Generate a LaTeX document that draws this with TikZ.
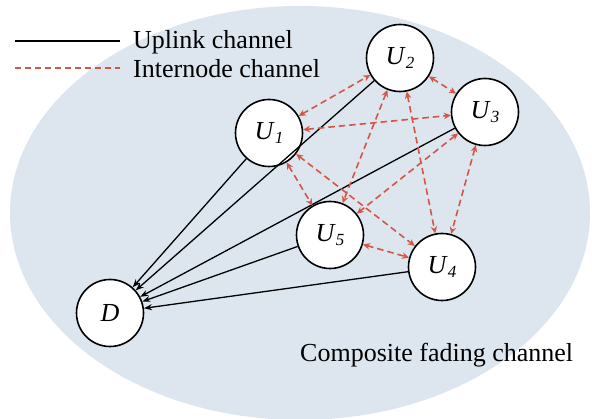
\documentclass[tikz,border=0pt]{standalone}
\usepackage{fontspec}
\setmainfont{Liberation Serif}
\usetikzlibrary{arrows.meta}
\definecolor{fadebg}{RGB}{221,229,239}
\definecolor{linkred}{RGB}{212,86,72}
% user label: italic U with an italic index
\newcommand{\usr}[1]{\textit{U}\raisebox{-4.5pt}{\fontsize{17}{17}\selectfont\textit{#1}}}

\begin{document}
\begin{tikzpicture}[x=1pt,y=-1pt,
  user/.style={circle,draw=black,line width=1.6pt,fill=white,minimum size=67pt,
    inner sep=0pt,font=\fontsize{26}{26}\selectfont},
  uplink/.style={black,line width=1.3pt,-{Stealth[length=8pt,width=6pt]}},
  internode/.style={linkred,line width=1.6pt,dash pattern=on 6.5pt off 4pt,
    {Stealth[length=7pt,width=6.5pt]}-{Stealth[length=7pt,width=6.5pt]}},
  legendtext/.style={font=\fontsize{26}{26}\selectfont,inner sep=0pt,anchor=base west}]
\useasboundingbox (0,0) rectangle (592,419);

% fading region
\begin{scope}
  \clip (0,0) rectangle (592,419);
  \fill[fadebg] (300,213) ellipse [x radius=290pt, y radius=207pt];
\end{scope}

% legend
\coordinate (lsA) at (15,41);
\coordinate (lsB) at (120,41);
\coordinate (ldA) at (15,68);
\coordinate (ldB) at (120,68);
\draw[black,line width=1.3pt] (lsA) -- (lsB);
\draw[linkred,line width=1.2pt,dash pattern=on 6pt off 4pt] (ldA) -- (ldB);
\node[legendtext] (lgup) at (133,49) {Uplink channel};
\node[legendtext] (lgin) at (133,78) {Internode channel};

% nodes
\node[user] (D)  at (110,313) {\textit{D}};
\node[user] (U1) at (269,133) {\usr{1}};
\node[user] (U2) at (400,58)  {\usr{2}};
\node[user] (U3) at (485,112) {\usr{3}};
\node[user] (U5) at (330,235) {\usr{5}};
\node[user] (U4) at (442,267) {\usr{4}};

% uplink channels
\foreach \u in {U1,U2,U3,U5,U4}
  \draw[uplink] (\u) -- (D);

% internode channels
\draw[internode] (U1) -- (U2);
\draw[internode] (U1) -- (U3);
\draw[internode] (U1) -- (U5);
\draw[internode] (U1) -- (U4);
\draw[internode] (U2) -- (U3);
\draw[internode] (U2) -- (U5);
\draw[internode] (U2) -- (U4);
\draw[internode] (U3) -- (U5);
\draw[internode] (U3) -- (U4);
\draw[internode] (U5) -- (U4);

\node[legendtext] (cap) at (300,362) {Composite fading channel};
\end{tikzpicture}
\end{document}
